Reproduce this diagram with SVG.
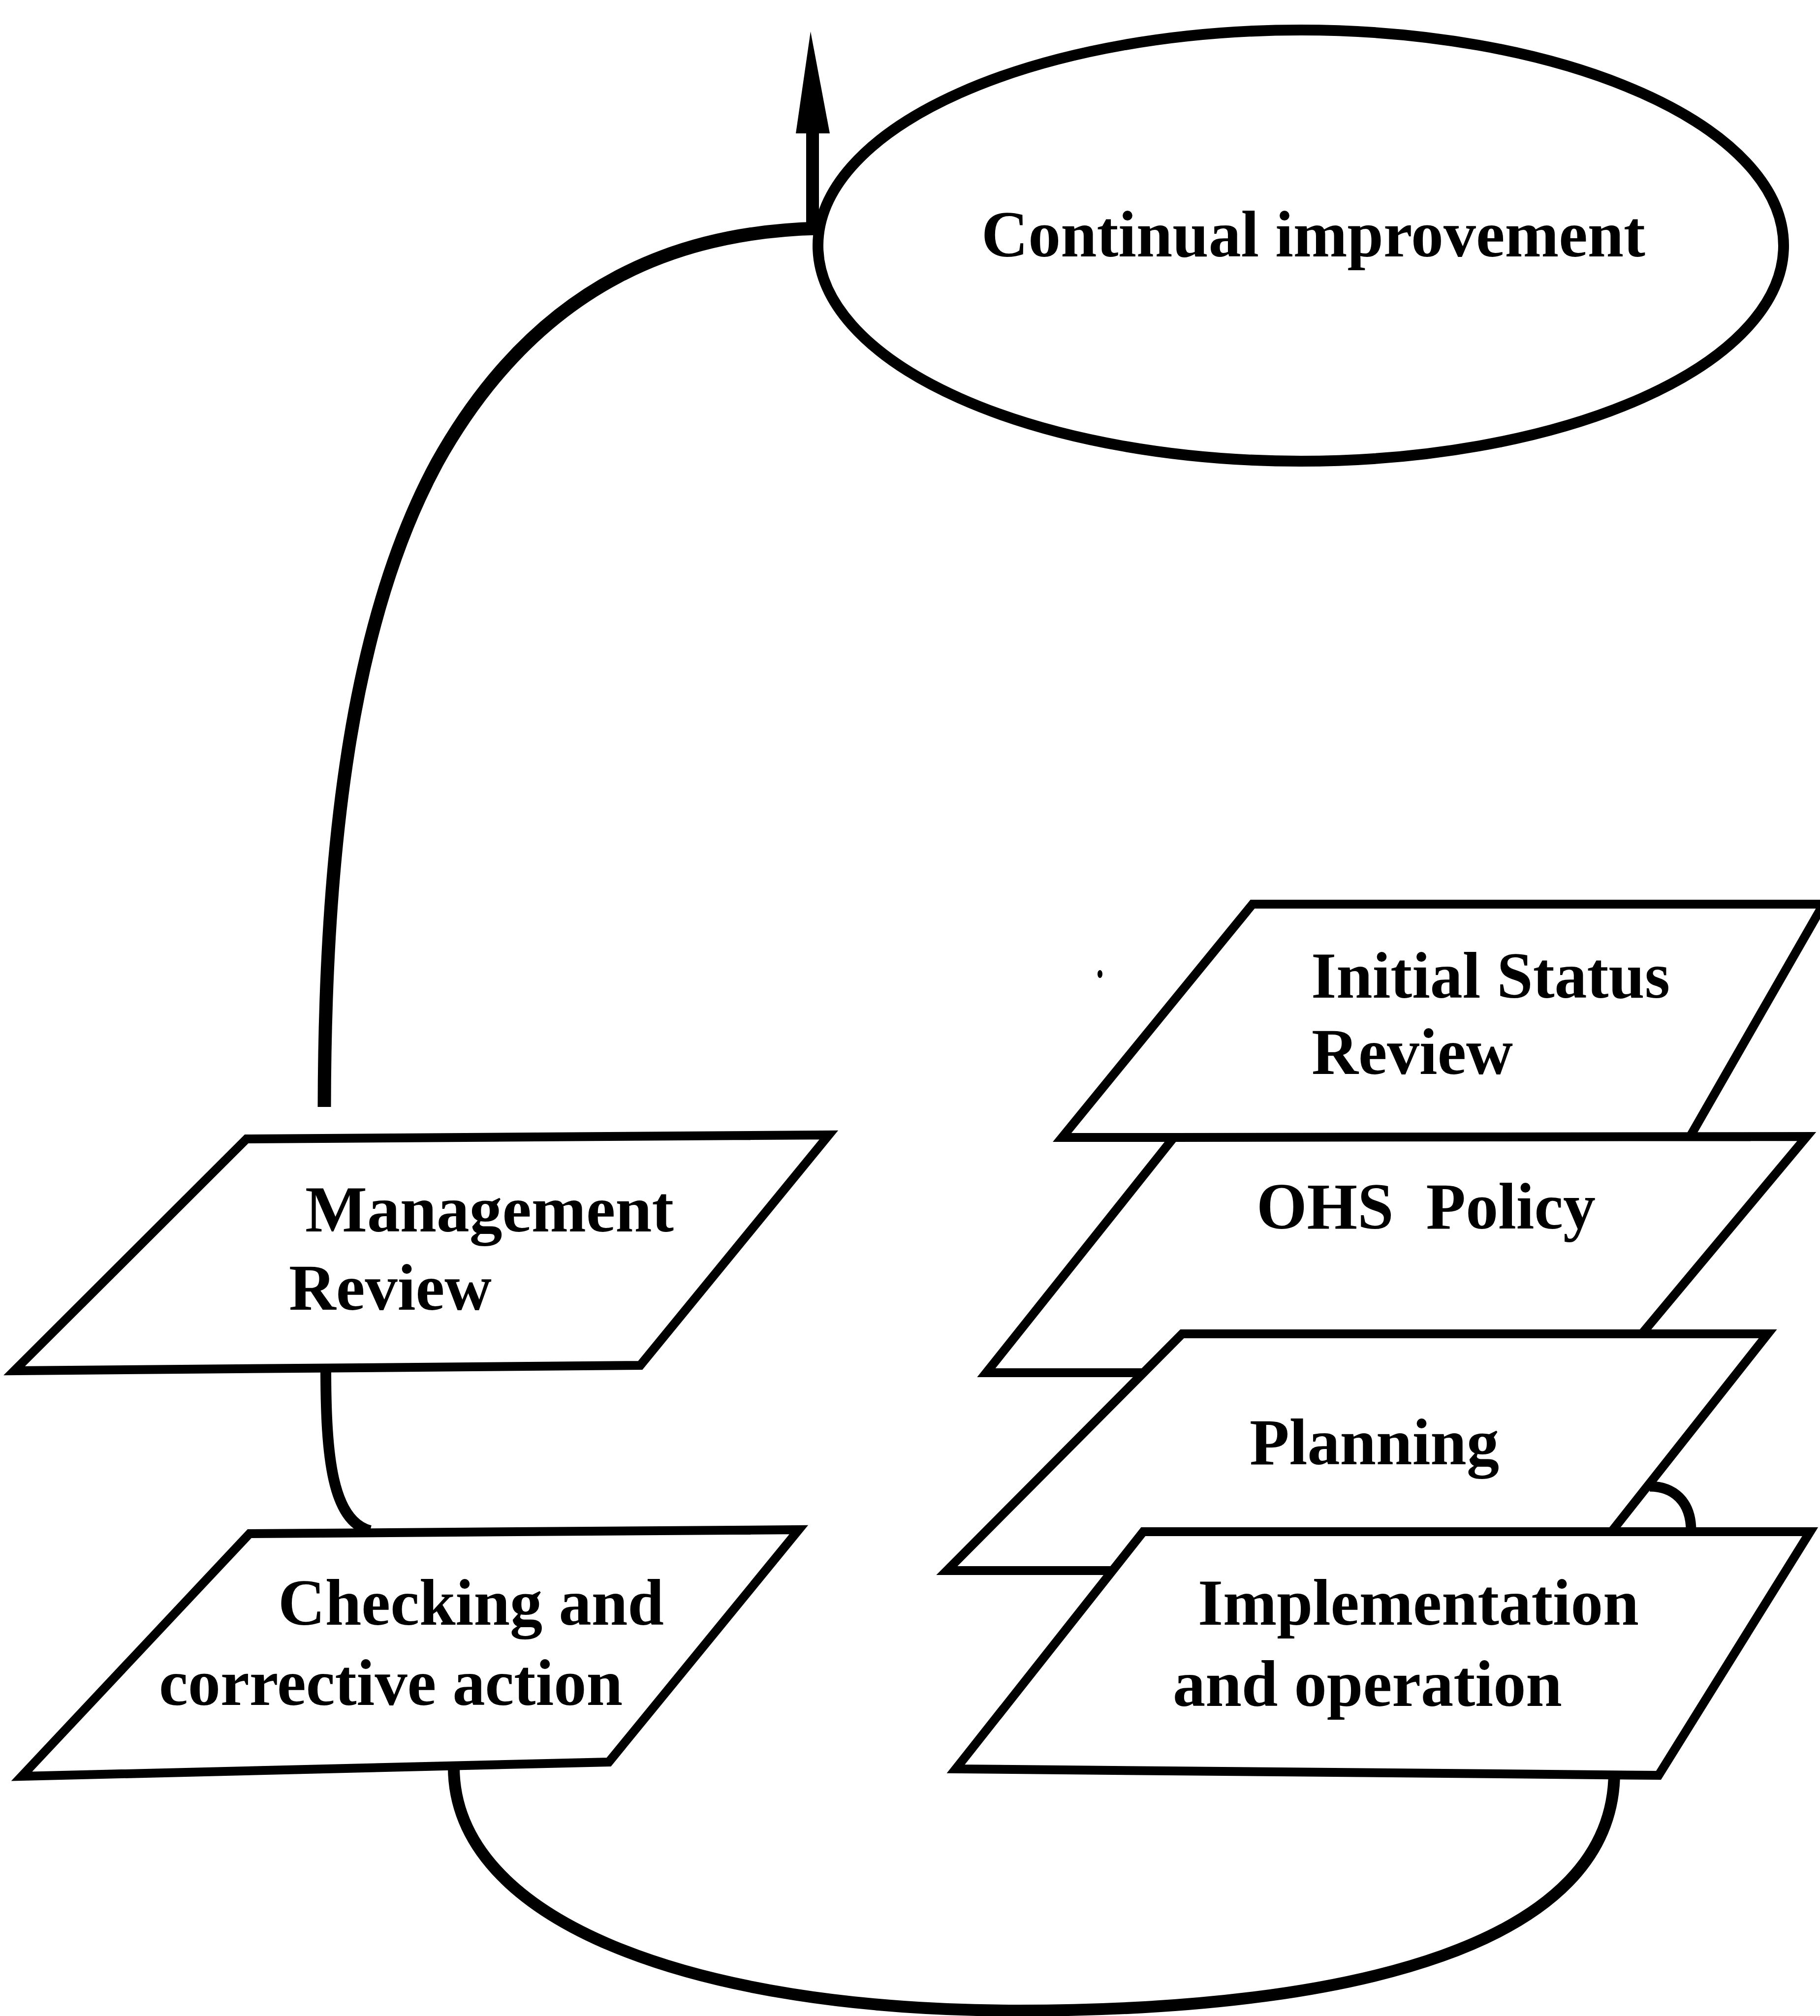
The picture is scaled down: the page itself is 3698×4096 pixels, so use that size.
<svg xmlns="http://www.w3.org/2000/svg" width="3698" height="4096" viewBox="0 0 3698 4096">
  <style>
    .shape { fill: #fff; stroke: #000; stroke-width: 18; stroke-linejoin: miter; }
    .oval { fill: #fff; stroke: #000; stroke-width: 22; }
    .link { fill: none; stroke: #000; stroke-linecap: butt; }
    .label { font-family: "Liberation Serif", "Times New Roman", serif; font-weight: bold; font-size: 134px; fill: #000; }
  </style>
  <rect width="3698" height="4096" fill="#fff"/>

  <!-- stray speck -->
  <ellipse cx="2235" cy="1979" rx="5" ry="8" fill="#000"/>

  <g id="continual-improvement">
    <ellipse class="oval" cx="2643" cy="499" rx="981" ry="438"/>
    <text class="label" x="1994" y="521" textLength="1349" lengthAdjust="spacingAndGlyphs">Continual improvement</text>
  </g>

  <g id="initial-status-review">
    <polygon class="shape" points="2545,1837 3705,1837 3433,2311 2158,2311"/>
    <text class="label" x="2664" y="2027" textLength="729" lengthAdjust="spacingAndGlyphs">Initial Status</text>
    <text class="label" x="2665" y="2182" textLength="409" lengthAdjust="spacingAndGlyphs">Review</text>
  </g>

  <g id="ohs-policy">
    <polygon class="shape" points="2385,2311 3671,2309 3270,2789 2004,2789"/>
    <text class="label" x="2553" y="2496" textLength="689" lengthAdjust="spacingAndGlyphs" xml:space="preserve">OHS  Policy</text>
  </g>

  <g id="planning">
    <polygon class="shape" points="2402,2710 3592,2710 3212,3191 1924,3191"/>
    <text class="label" x="2539" y="2975" textLength="507" lengthAdjust="spacingAndGlyphs">Planning</text>
  </g>

  <g id="implementation-and-operation">
    <polygon class="shape" points="2323,3112 3678,3112 3370,3607 1942,3594"/>
    <text class="label" x="2434" y="3301" textLength="896" lengthAdjust="spacingAndGlyphs">Implementation</text>
    <text class="label" x="2383" y="3466" textLength="791" lengthAdjust="spacingAndGlyphs">and operation</text>
  </g>

  <g id="management-review">
    <polygon class="shape" points="501,2314 1684,2306 1301,2774 29,2785"/>
    <text class="label" x="620" y="2502" textLength="749" lengthAdjust="spacingAndGlyphs">Management</text>
    <text class="label" x="587" y="2661" textLength="412" lengthAdjust="spacingAndGlyphs">Review</text>
  </g>

  <g id="checking-and-corrective-action">
    <polygon class="shape" points="507,3116 1623,3108 1237,3580 44,3609"/>
    <text class="label" x="565" y="3301" textLength="784" lengthAdjust="spacingAndGlyphs">Checking and</text>
    <text class="label" x="323" y="3464" textLength="942" lengthAdjust="spacingAndGlyphs">corrective action</text>
  </g>

  <g id="connectors">
    <!-- implementation back round to checking -->
    <path class="link" stroke-width="24" d="M922,3590 C922,3900 1400,4085 2070,4085 C2750,4085 3280,3950 3280,3600"/>
    <!-- checking up to management review -->
    <path class="link" stroke-width="22" d="M662,2780 C662,2960 675,3090 752,3110"/>
    <!-- planning to implementation -->
    <path class="link" stroke-width="21" d="M3352,3020 C3400,3020 3436,3050 3436,3110"/>
    <!-- management review up to continual improvement -->
    <path class="link" stroke-width="27" d="M659,2249 C660,1700 720,1250 888,940 C1100,560 1400,470 1663,464"/>
    <!-- upward arrow -->
    <line class="link" stroke-width="26" x1="1651" y1="476" x2="1651" y2="266"/>
    <polygon points="1647,64 1617,271 1686,271" fill="#000"/>
  </g>
</svg>
